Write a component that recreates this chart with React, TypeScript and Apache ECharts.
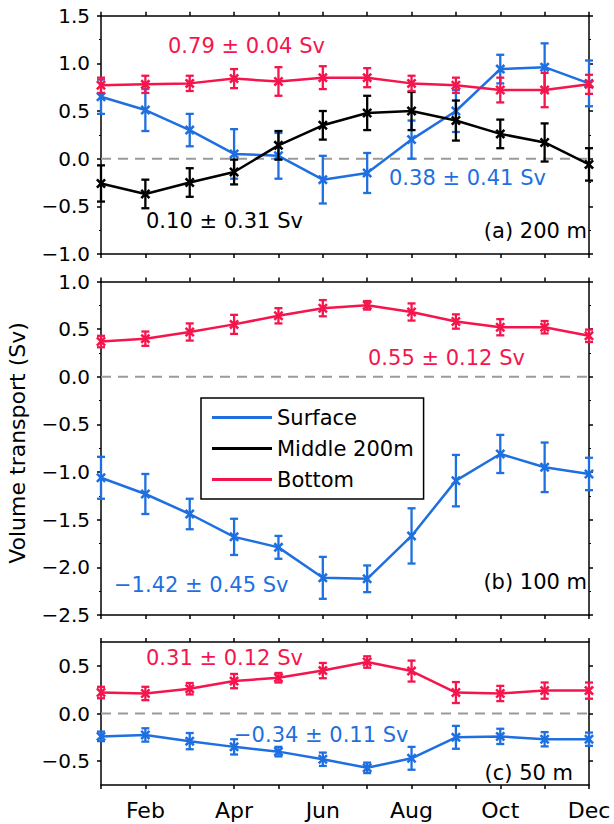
import React, { useEffect, useRef } from "react";
import * as echarts from "echarts";

// ---------- data ----------
const MONTHS = [1, 2, 3, 4, 5, 6, 7, 8, 9, 10, 11, 12];
const MONTH_LABELS: Record<number, string> = { 2: "Feb", 4: "Apr", 6: "Jun", 8: "Aug", 10: "Oct", 12: "Dec" };

// (a) 200 m
const A_SURF = [0.65, 0.51, 0.30, 0.05, 0.03, -0.22, -0.15, 0.20, 0.50, 0.94, 0.96, 0.79];
const A_SURF_ERR = [0.18, 0.22, 0.17, 0.26, 0.24, 0.25, 0.21, 0.20, 0.22, 0.15, 0.25, 0.24];
const A_MID = [-0.26, -0.37, -0.25, -0.14, 0.14, 0.35, 0.48, 0.50, 0.40, 0.26, 0.17, -0.06];
const A_MID_ERR = [0.19, 0.15, 0.15, 0.13, 0.15, 0.15, 0.18, 0.20, 0.21, 0.15, 0.20, 0.17];
const A_BOT = [0.77, 0.78, 0.79, 0.84, 0.81, 0.85, 0.85, 0.79, 0.77, 0.72, 0.72, 0.78];
const A_BOT_ERR = [0.08, 0.09, 0.08, 0.10, 0.15, 0.12, 0.10, 0.08, 0.08, 0.13, 0.18, 0.10];

// (b) 100 m
const B_SURF = [-1.06, -1.23, -1.44, -1.68, -1.79, -2.11, -2.12, -1.67, -1.09, -0.81, -0.95, -1.02];
const B_SURF_ERR = [0.22, 0.21, 0.16, 0.19, 0.12, 0.22, 0.14, 0.29, 0.27, 0.20, 0.26, 0.17];
const B_BOT = [0.37, 0.40, 0.47, 0.55, 0.64, 0.72, 0.75, 0.68, 0.58, 0.52, 0.52, 0.43];
const B_BOT_ERR = [0.06, 0.075, 0.09, 0.10, 0.08, 0.085, 0.045, 0.09, 0.075, 0.085, 0.065, 0.065];

// (c) 50 m
const C_SURF = [-0.24, -0.225, -0.29, -0.35, -0.40, -0.48, -0.57, -0.47, -0.25, -0.24, -0.27, -0.27];
const C_SURF_ERR = [0.05, 0.07, 0.085, 0.08, 0.05, 0.07, 0.055, 0.12, 0.12, 0.08, 0.075, 0.07];
const C_BOT = [0.22, 0.21, 0.26, 0.34, 0.375, 0.45, 0.54, 0.445, 0.22, 0.21, 0.24, 0.24];
const C_BOT_ERR = [0.06, 0.07, 0.06, 0.075, 0.05, 0.08, 0.06, 0.11, 0.11, 0.08, 0.085, 0.085];

const Y_RANGES = [
  [-1.0, 1.5],
  [-2.5, 1.0],
  [-0.75, 0.75],
];

// ---------- styles ----------
const FONT = '"DejaVu Sans", sans-serif';
const BLUE = "#1E6FE0";
const RED = "#F5154C";
const BLACK = "#000000";
const GRID_LEFT = 101;
const GRID_RIGHT = 25;
const GRIDS = [
  { top: 15.7, height: 238.3 },
  { top: 281.5, height: 333.5 },
  { top: 642, height: 143 },
];

const X_SYMBOL =
  "path://M1.8,0 L5,3.2 L8.2,0 L10,1.8 L6.8,5 L10,8.2 L8.2,10 L5,6.8 L1.8,10 L0,8.2 L3.2,5 L0,1.8 Z";

function fmtY(v: number): string {
  const r = Math.round(v * 100) / 100;
  if (Math.abs(r * 2 - Math.round(r * 2)) > 1e-6) return "";
  const s = Math.abs(r).toFixed(1);
  return r < -1e-9 ? "\u2212" + s : s;
}

function lineSeries(name: string, vals: number[], color: string, gi: number, z: number) {
  return {
    type: "line",
    name,
    xAxisIndex: gi,
    yAxisIndex: gi,
    data: MONTHS.map((m, i) => [m, vals[i]]),
    symbol: X_SYMBOL,
    symbolSize: 10,
    showAllSymbol: true,
    lineStyle: { color, width: 2.5 },
    itemStyle: { color, borderWidth: 0 },
    clip: false,
    silent: true,
    z,
  };
}

function errSeries(name: string, vals: number[], errs: number[], color: string, gi: number, z: number) {
  return {
    type: "custom",
    name,
    xAxisIndex: gi,
    yAxisIndex: gi,
    data: MONTHS.map((m, i) => [m, vals[i], errs[i]]),
    encode: { x: 0, y: 1 },
    clip: false,
    silent: true,
    z,
    renderItem: (_params: any, api: any) => {
      const x = api.value(0);
      const v = api.value(1);
      const e = api.value(2);
      const p1 = api.coord([x, v + e]);
      const p2 = api.coord([x, v - e]);
      const st = { stroke: color, lineWidth: 2.3 };
      const w = 4;
      return {
        type: "group",
        children: [
          { type: "line", shape: { x1: p1[0], y1: p1[1], x2: p2[0], y2: p2[1] }, style: st },
          { type: "line", shape: { x1: p1[0] - w, y1: p1[1], x2: p1[0] + w, y2: p1[1] }, style: st },
          { type: "line", shape: { x1: p2[0] - w, y1: p2[1], x2: p2[0] + w, y2: p2[1] }, style: st },
        ],
      };
    },
  };
}

function zeroSeries(gi: number) {
  return {
    type: "line",
    name: "zero" + gi,
    xAxisIndex: gi,
    yAxisIndex: gi,
    data: [
      [MONTHS[0], 0],
      [MONTHS[MONTHS.length - 1], 0],
    ],
    symbol: "none",
    lineStyle: { color: "#9a9a9a", width: 2, type: [10, 7] },
    silent: true,
    z: 1,
  };
}

function buildOption() {
  const axisLine = { show: true, onZero: false, lineStyle: { color: "#000", width: 1.5 } };
  const tick = { show: true, inside: false, length: 4, lineStyle: { color: "#000", width: 1.5 } };

  const xAxes: any[] = [];
  const yAxes: any[] = [];
  for (let pos = 0; pos < 2; pos++) {
    for (let gi = 0; gi < 3; gi++) {
      xAxes.push({
        type: "value",
        gridIndex: gi,
        position: pos === 0 ? "bottom" : "top",
        min: 1,
        max: 12,
        interval: 1,
        axisLine,
        axisTick: tick,
        splitLine: { show: false },
        axisLabel: {
          show: pos === 0 && gi === 2,
          formatter: (v: number) => MONTH_LABELS[Math.round(v)] || "",
          fontSize: 22,
          fontFamily: FONT,
          color: "#000",
          margin: 14,
        },
      });
    }
  }
  for (let pos = 0; pos < 2; pos++) {
    for (let gi = 0; gi < 3; gi++) {
      const isC = gi === 2;
      const ax: any = {
        type: "value",
        gridIndex: gi,
        position: pos === 0 ? "left" : "right",
        min: Y_RANGES[gi][0],
        max: Y_RANGES[gi][1],
        interval: isC ? 0.25 : 0.5,
        axisLine,
        axisTick: isC ? { ...tick, customValues: [-0.5, 0, 0.5] } : tick,
        minorTick: { show: !isC, splitNumber: 2, length: 2, lineStyle: { color: "#000", width: 1 } },
        splitLine: { show: false },
        minorSplitLine: { show: false },
        axisLabel: {
          show: pos === 0,
          formatter: fmtY,
          fontSize: 20,
          fontFamily: FONT,
          color: "#000",
          margin: 11,
          showMinLabel: true,
          showMaxLabel: true,
        },
      };
      if (isC) ax.axisLabel.customValues = [-0.5, 0, 0.5];
      yAxes.push(ax);
    }
  }

  const series: any[] = [
    zeroSeries(0),
    zeroSeries(1),
    zeroSeries(2),
    // (a)
    errSeries("Surface err", A_SURF, A_SURF_ERR, BLUE, 0, 2),
    lineSeries("Surface", A_SURF, BLUE, 0, 3),
    errSeries("Middle err", A_MID, A_MID_ERR, BLACK, 0, 4),
    lineSeries("Middle 200m", A_MID, BLACK, 0, 5),
    errSeries("Bottom err", A_BOT, A_BOT_ERR, RED, 0, 6),
    lineSeries("Bottom", A_BOT, RED, 0, 7),
    // (b)
    errSeries("Surface err", B_SURF, B_SURF_ERR, BLUE, 1, 2),
    lineSeries("Surface", B_SURF, BLUE, 1, 3),
    errSeries("Bottom err", B_BOT, B_BOT_ERR, RED, 1, 6),
    lineSeries("Bottom", B_BOT, RED, 1, 7),
    // (c)
    errSeries("Surface err", C_SURF, C_SURF_ERR, BLUE, 2, 2),
    lineSeries("Surface", C_SURF, BLUE, 2, 3),
    errSeries("Bottom err", C_BOT, C_BOT_ERR, RED, 2, 6),
    lineSeries("Bottom", C_BOT, RED, 2, 7),
  ];

  const txt = (text: string, x: number, y: number, color: string, align = "left", size = 21) => ({
    type: "text",
    x,
    y,
    z: 20,
    silent: true,
    style: {
      text,
      fill: color,
      fontSize: size,
      fontFamily: FONT,
      textAlign: align,
      textVerticalAlign: "middle",
    },
  });

  const graphic = [
    txt("0.79 \u00b1 0.04 Sv", 168, 46, RED),
    txt("0.38 \u00b1 0.41 Sv", 389, 178, BLUE),
    txt("0.10 \u00b1 0.31 Sv", 146, 221, BLACK),
    txt("(a) 200 m", 587, 231, BLACK, "right"),
    txt("0.55 \u00b1 0.12 Sv", 368, 358, RED),
    txt("\u22121.42 \u00b1 0.45 Sv", 114, 585, BLUE),
    txt("(b) 100 m", 587, 582, BLACK, "right"),
    txt("0.31 \u00b1 0.12 Sv", 146, 658, RED),
    txt("\u22120.34 \u00b1 0.11 Sv", 234, 735, BLUE),
    txt("(c) 50 m", 573, 773, BLACK, "right"),
    {
      type: "text",
      x: 17,
      y: 443,
      rotation: Math.PI / 2,
      silent: true,
      style: {
        text: "Volume transport (Sv)",
        fill: "#000",
        fontSize: 22,
        fontFamily: FONT,
        textAlign: "center",
        textVerticalAlign: "middle",
      },
    },
  ];

  return {
    animation: false,
    backgroundColor: "#fff",
    grid: GRIDS.map((g) => ({ left: GRID_LEFT, right: GRID_RIGHT, top: g.top, height: g.height, containLabel: false })),
    xAxis: xAxes,
    yAxis: yAxes,
    legend: {
      orient: "vertical",
      left: 201,
      top: 398,
      icon: "rect",
      itemWidth: 60,
      itemHeight: 3,
      itemGap: 10,
      padding: [9, 10, 9, 11],
      borderColor: "#000",
      borderWidth: 1.5,
      backgroundColor: "#fff",
      selectedMode: false,
      itemStyle: { borderWidth: 0 },
      textStyle: { fontSize: 21, fontFamily: FONT, color: "#000", lineHeight: 21 },
      data: ["Surface", "Middle 200m", "Bottom"],
      z: 30,
    },
    series,
    graphic,
  };
}

export default function App() {
  const ref = useRef<HTMLDivElement>(null);
  useEffect(() => {
    if (!ref.current) return;
    const chart = echarts.init(ref.current, null, { renderer: "svg", width: 614, height: 824 });
    chart.setOption(buildOption() as any);
    return () => chart.dispose();
  }, []);
  return (
    <div
      ref={ref}
      style={{ position: "absolute", left: 0, top: 0, width: 614, height: 824, background: "#fff" }}
    />
  );
}
